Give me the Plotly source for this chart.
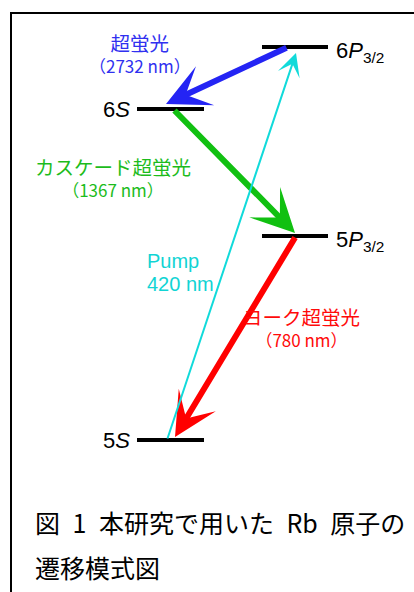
import plotly.graph_objects as go

# Energy levels of Rb (drawn as horizontal bars), diagram units in px-like scale
level_names = ["5<i>S</i>", "5<i>P</i><sub>3/2</sub>", "6<i>S</i>", "6<i>P</i><sub>3/2</sub>"]
level_y = [440, 236, 109, 47]
level_x0 = [137, 262, 137, 262]
level_x1 = [204, 328, 204, 328]
level_label_side = ["left", "right", "left", "right"]

# Transitions: (from level index, to level index, x on from-level, x on to-level)
trans_from = [3, 2, 1, 0]
trans_to = [2, 1, 0, 3]
trans_x_from = [288, 173, 296, 167]
trans_x_to = [166, 295, 175, 296]
trans_color = ["#2424f4", "#11c011", "#ff0000", "#11dada"]
trans_width = [6, 6, 6, 2]
trans_head = [1.2, 1.2, 1.2, 1.9]
trans_to_y_adj = [-5, -3, -3, 6]

# Transition labels
lab_lines1 = ["超蛍光", "カスケード超蛍光", "Pump", "ヨーク超蛍光"]
lab_lines2 = ["（2732 nm）", "（1367 nm）", "420 nm", "（780 nm）"]
lab_x = [140, 113, 145, 301]
lab_y = [53, 177, 272, 327]
lab_color = ["#3030f0", "#1cbc1c", "#11d4d4", "#ff0a0a"]

caption1 = "図\u20021\u2002本研究で用いた\u2002Rb\u2002原子の"
caption2 = "遷移模式図"

W, H = 414, 592
fig = go.Figure()

for i in range(len(level_y)):
    fig.add_trace(go.Scatter(
        x=[level_x0[i], level_x1[i]], y=[level_y[i], level_y[i]],
        mode="lines", line=dict(color="black", width=4),
        hoverinfo="skip", showlegend=False))

annotations = []
for i in range(len(trans_from)):
    y_from = level_y[trans_from[i]]
    y_to = level_y[trans_to[i]] + trans_to_y_adj[i]
    annotations.append(dict(
        x=trans_x_to[i], y=y_to, ax=trans_x_from[i], ay=y_from,
        xref="x", yref="y", axref="x", ayref="y",
        text="", showarrow=True, arrowhead=3,
        arrowsize=trans_head[i], arrowwidth=trans_width[i],
        arrowcolor=trans_color[i], standoff=0, startstandoff=0))

sans = "Liberation Sans, Arial, sans-serif"
jp = "Noto Sans CJK JP, sans-serif"

for i in range(len(level_y)):
    if level_label_side[i] == "left":
        annotations.append(dict(x=level_x0[i] - 5, y=level_y[i], xref="x", yref="y",
                                text=level_names[i], showarrow=False, xanchor="right",
                                yanchor="middle", font=dict(family=sans, size=22, color="black")))
    else:
        annotations.append(dict(x=level_x1[i] + 6, y=level_y[i] + 5, xref="x", yref="y",
                                text=level_names[i], showarrow=False, xanchor="left",
                                yanchor="middle", font=dict(family=sans, size=22, color="black")))

for i in range(len(lab_lines1)):
    if i == 2:
        txt = "<span style='font-size:20px'>" + lab_lines1[i] + "</span><br>" + \
              "<span style='font-size:20px'>" + lab_lines2[i] + "</span>"
        fnt = dict(family=sans, size=18, color=lab_color[i])
        xa, al = "left", "left"
    else:
        txt = "<span style='font-size:19.5px'>" + lab_lines1[i] + "</span><br>" + lab_lines2[i]
        fnt = dict(family=jp, size=17, color=lab_color[i])
        xa, al = "center", "center"
    annotations.append(dict(x=lab_x[i], y=lab_y[i], xref="x", yref="y", text=txt,
                            showarrow=False, xanchor=xa, yanchor="middle",
                            align=al, font=fnt))

annotations.append(dict(x=33, y=522, xref="x", yref="y", text=caption1, showarrow=False,
                        xanchor="left", yanchor="middle",
                        font=dict(family=jp, size=25, color="black")))
annotations.append(dict(x=33, y=567, xref="x", yref="y", text=caption2, showarrow=False,
                        xanchor="left", yanchor="middle",
                        font=dict(family=jp, size=25, color="black")))

fig.update_layout(
    width=W, height=H, margin=dict(l=0, r=0, t=0, b=0),
    paper_bgcolor="white", plot_bgcolor="white",
    xaxis=dict(range=[0, W], visible=False, fixedrange=True),
    yaxis=dict(range=[H, 0], visible=False, fixedrange=True),
    annotations=annotations,
    shapes=[dict(type="rect", xref="x", yref="y", x0=11, y0=13, x1=W + 10, y1=H + 10,
                 line=dict(color="black", width=2), layer="below")],
)

fig.write_html("out.html")
